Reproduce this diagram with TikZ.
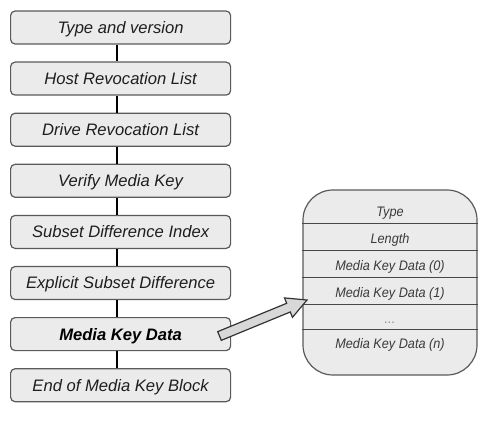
\documentclass[tikz,border=0pt]{standalone}
\usepackage{fontspec}
\setmainfont{Liberation Sans}
\newfontfamily\narrowfont[FakeStretch=0.92]{Liberation Sans}
\definecolor{boxfill}{HTML}{EBEBEB}
\definecolor{boxborder}{HTML}{5A5A5A}
\definecolor{txt}{HTML}{1E1E1E}
\definecolor{rowtxt}{HTML}{3A3A3A}
\definecolor{arrowfill}{HTML}{D8D8D8}
\begin{document}
\begin{tikzpicture}[x=1pt,y=1pt,
  stackbox/.style={draw=boxborder, fill=boxfill, line width=1.2pt, rounded corners=4.5pt,
    minimum width=220pt, minimum height=33pt, inner sep=0pt,
    font=\fontsize{16.6}{20}\selectfont\itshape, text=txt, text height=15pt, text depth=3.1pt},
  link/.style={line width=1.4pt, draw=black},
  rowline/.style={line width=1pt, draw=boxborder!80!black},
  rowtext/.style={font=\narrowfont\fontsize{13.8}{16}\selectfont\itshape, text=rowtxt, anchor=base, inner sep=0pt},
  blockarrow/.style={draw=black!80, fill=arrowfill, line width=1.2pt, line join=miter}]
\useasboundingbox (0,0) rectangle (500,421);

\node[stackbox] (b1) at (120.6,393.5) {Type and version};
\node[stackbox] (b2) at (120.6,342.4) {Host Revocation List};
\node[stackbox] (b3) at (120.6,291.3) {Drive Revocation List};
\node[stackbox] (b4) at (120.6,240.2) {Verify Media Key};
\node[stackbox] (b5) at (120.6,189.1) {Subset Difference Index};
\node[stackbox] (b6) at (120.6,138.0) {Explicit Subset Difference};
\node[stackbox, font=\fontsize{16.6}{20}\selectfont\bfseries\itshape, text=black] (b7) at (120.6,86.9) {Media Key Data};
\node[stackbox] (b8) at (120.6,35.8) {End of Media Key Block};

\foreach \a/\b in {b1/b2,b2/b3,b3/b4,b4/b5,b5/b6,b6/b7,b7/b8}
  \draw[link] ([xshift=-3.5pt]\a.south) -- ([xshift=-3.5pt]\b.north);

% right record box
\node[draw=boxborder, fill=boxfill, line width=1.2pt, rounded corners=30pt,
      minimum width=174pt, minimum height=185pt, inner sep=0pt] (rec) at (390,138.5) {};
\foreach \yy in {198,171,144,117,92}
  \draw[rowline] (rec.west |- 0,\yy) -- (rec.east |- 0,\yy);

\node[rowtext] (r1) at (390,204.5) {Type};
\node[rowtext] (r2) at (390,177.5) {Length};
\node[rowtext] (r3) at (390,150.5) {Media Key Data (0)};
\node[rowtext] (r4) at (390,123.5) {Media Key Data (1)};
\node[rowtext, text=rowtxt!60] (r5) at (390,98) {...};
\node[rowtext] (r6) at (390,73) {Media Key Data (n)};

% block arrow
\begin{scope}[shift={(219.5,85)}, rotate=22.36]
  \draw[blockarrow] (0,-4.7) -- (74.6,-4.7) -- (74.6,-10.5) -- (94.6,0) -- (74.6,10.5) -- (74.6,4.7) -- (0,4.7) -- cycle;
\end{scope}
\end{tikzpicture}
\end{document}
